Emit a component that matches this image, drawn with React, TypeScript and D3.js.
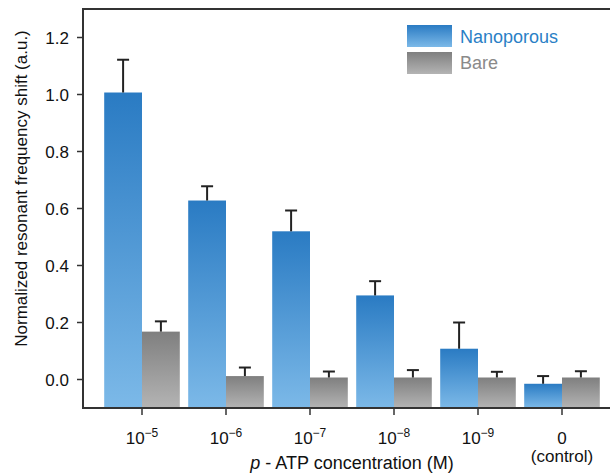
import React from "react";
import * as d3 from "d3";

const categories = ["1e-5", "1e-6", "1e-7", "1e-8", "1e-9", "control"];
const tickExponents = ["−5", "−6", "−7", "−8", "−9", ""];
const seriesNames = ["Nanoporous", "Bare"];
const nanoporous = [1.007, 0.628, 0.52, 0.295, 0.108, -0.015];
const nanoporousErr = [0.115, 0.05, 0.073, 0.05, 0.092, 0.027];
const bare = [0.168, 0.012, 0.007, 0.007, 0.007, 0.007];
const bareErr = [0.036, 0.03, 0.021, 0.026, 0.02, 0.022];
const yTicks = [0, 0.2, 0.4, 0.6, 0.8, 1.0, 1.2];

const W = 610;
const H = 473;
const left = 83;
const right = 610;
const top = 9;
const bottom = 408;
const FONT = "'Liberation Sans', Arial, Helvetica, sans-serif";

export default function App() {
  const y = d3.scaleLinear().domain([-0.1, 1.3]).range([bottom, top]);
  const x = d3
    .scaleBand<string>()
    .domain(categories)
    .range([100, 604])
    .paddingInner(0.1)
    .paddingOuter(0.05);
  const xs = d3
    .scaleBand<string>()
    .domain(seriesNames)
    .range([0, x.bandwidth()]);
  const series = [
    { name: "Nanoporous", values: nanoporous, errs: nanoporousErr, grad: "gBlue" },
    { name: "Bare", values: bare, errs: bareErr, grad: "gGray" },
  ];
  const fmt = d3.format(".1f");

  return (
    <svg
      width={W}
      height={H}
      style={{ position: "absolute", left: 0, top: 0, background: "#fff" }}
      fontFamily={FONT}
    >
      <defs>
        <linearGradient id="gBlue" x1="0" y1="0" x2="0" y2="1">
          <stop offset="0" stopColor="#2a7bc3" />
          <stop offset="1" stopColor="#7cb9e8" />
        </linearGradient>
        <linearGradient id="gGray" x1="0" y1="0" x2="0" y2="1">
          <stop offset="0" stopColor="#7f7f7f" />
          <stop offset="1" stopColor="#b4b4b4" />
        </linearGradient>
      </defs>

      {series.map((s) =>
        categories.map((c, i) => {
          const bx = (x(c) as number) + (xs(s.name) as number);
          const bw = xs.bandwidth();
          const v = s.values[i];
          const yt = y(v);
          const ye = y(v + s.errs[i]);
          const cx = bx + bw / 2;
          return (
            <g key={s.name + c}>
              <rect x={bx} y={yt} width={bw} height={bottom - yt} fill={`url(#${s.grad})`} />
              <line x1={cx} x2={cx} y1={yt} y2={ye} stroke="#222" strokeWidth={2} />
              <line x1={cx - 6} x2={cx + 6} y1={ye} y2={ye} stroke="#222" strokeWidth={2} />
            </g>
          );
        })
      )}

      {/* frame */}
      <line x1={left} x2={right} y1={top} y2={top} stroke="#333" strokeWidth={2} />
      <line x1={left} x2={left} y1={top - 1} y2={bottom + 1} stroke="#333" strokeWidth={2} />
      <line x1={left} x2={right} y1={bottom} y2={bottom} stroke="#333" strokeWidth={2} />

      {/* y ticks */}
      {yTicks.map((t) => (
        <g key={t}>
          <line x1={left - 6} x2={left} y1={y(t)} y2={y(t)} stroke="#333" strokeWidth={1.5} />
          <text x={69} y={y(t)} dy="0.36em" textAnchor="end" fontSize={17} fill="#111">
            {fmt(t)}
          </text>
        </g>
      ))}

      {/* x ticks */}
      {categories.map((c, i) => {
        const cx = (x(c) as number) + x.bandwidth() / 2;
        return (
          <g key={c}>
            <line x1={cx} x2={cx} y1={bottom} y2={bottom + 7} stroke="#333" strokeWidth={1.5} />
            {tickExponents[i] ? (
              <text x={cx} y={444} textAnchor="middle" fontSize={17} fill="#111">
                10
                <tspan dy={-7} fontSize={12}>
                  {tickExponents[i]}
                </tspan>
              </text>
            ) : (
              <>
                <text x={cx} y={444} textAnchor="middle" fontSize={17} fill="#111">
                  0
                </text>
                <text x={cx} y={462} textAnchor="middle" fontSize={17} fill="#111">
                  (control)
                </text>
              </>
            )}
          </g>
        );
      })}

      {/* axis titles */}
      <text x={352} y={469} textAnchor="middle" fontSize={18} fill="#111">
        <tspan fontStyle="italic">p</tspan> - ATP concentration (M)
      </text>
      <text
        transform={`translate(27, ${(top + bottom) / 2 - 20}) rotate(-90)`}
        textAnchor="middle"
        fontSize={17}
        fill="#111"
      >
        Normalized resonant frequency shift (a.u.)
      </text>

      {/* legend */}
      <rect x={407} y={25} width={45} height={22} fill="url(#gBlue)" />
      <rect x={407} y={52} width={45} height={22} fill="url(#gGray)" />
      <text x={460} y={43} fontSize={18} fill="#2a7fc6">
        Nanoporous
      </text>
      <text x={460} y={69} fontSize={18} fill="#8a8a8a">
        Bare
      </text>
    </svg>
  );
}
